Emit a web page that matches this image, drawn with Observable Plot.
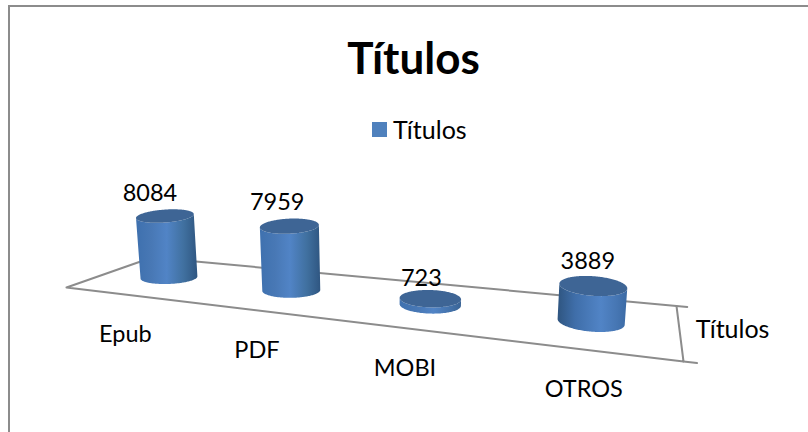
<!DOCTYPE html>
<html>
<head>
<meta charset="utf-8">
<script src="https://cdn.jsdelivr.net/npm/d3@7"></script>
<script src="https://cdn.jsdelivr.net/npm/@observablehq/plot@0.6"></script>
<style>
html,body{margin:0;padding:0;background:#fff;}
#frame{position:absolute;left:8px;top:5px;width:800px;height:427px;border-left:2px solid #8c8c8c;border-top:2px solid #8c8c8c;box-sizing:border-box;}
#chart{position:absolute;left:0;top:0;width:808px;height:432px;overflow:hidden;font-family:Lato,sans-serif;color:#000;}
#title{position:absolute;left:0;width:808px;top:32px;text-align:center;padding-left:19px;box-sizing:border-box;font-size:44px;font-weight:700;line-height:50px;}
#legend{position:absolute;left:372px;top:114px;height:30px;display:flex;align-items:center;font-size:25px;line-height:30px;}
#legend i{display:block;width:15px;height:15px;background:#4f81bd;margin-right:6px;}
#plot{position:absolute;left:0;top:150px;}
svg{display:block;}
</style>
</head>
<body>
<div id="chart">
  <div id="frame"></div>
  <div id="title">Títulos</div>
  <div id="legend"><i></i><span>Títulos</span></div>
  <div id="plot"></div>
</div>
<script>
const categories = ["Epub", "PDF", "MOBI", "OTROS"];
const values = [8084, 7959, 723, 3889];
const seriesName = "Títulos";

// Camera: the floor plane (category position u, depth w) seen in perspective.
const floorCorners = [[66, 287], [151.5, 257], [676, 305.5], [683, 361]]; // (u0,w0) (u0,w1) (u4,w1) (u4,w0)
const uMax = categories.length;
function homography([p0, p1, p2, p3]) {
  const dx1 = p3[0] - p2[0], dx2 = p1[0] - p2[0], sx = p0[0] - p3[0] + p2[0] - p1[0];
  const dy1 = p3[1] - p2[1], dy2 = p1[1] - p2[1], sy = p0[1] - p3[1] + p2[1] - p1[1];
  const det = dx1 * dy2 - dx2 * dy1;
  const g = (sx * dy2 - dx2 * sy) / det, h = (dx1 * sy - sx * dy1) / det;
  const a = p3[0] - p0[0] + g * p3[0], b = p1[0] - p0[0] + h * p1[0], c = p0[0];
  const d = p3[1] - p0[1] + g * p3[1], e = p1[1] - p0[1] + h * p1[1], f = p0[1];
  return (s, t) => {
    const z = g * s + h * t + 1;
    return [(a * s + b * t + c) / z, (d * s + e * t + f) / z];
  };
}
const H = homography(floorCorners);
const unitsPerValue = 0.0076, growth = 0.0005, leanAt = 390, leanRate = 0.0003;
function project(u, w, v = 0) {
  const [x, y] = H(u / uMax, w);
  const h = v * unitsPerValue * (1 + (x - 170) * growth);
  return [x + (x - leanAt) * leanRate * h, y - h];
}

// Where each cylinder stands on the floor and how wide it is, in floor units.
const barPositions = [0.535, 1.565, 2.56, 3.53];
const barRadii = [0.22, 0.205, 0.195, 0.185];
const labelPositions = [0.53, 1.57, 2.55, 3.53];
const labelLift = [22, 23, 20, 24];
const radiusW = 0.19, midW = 0.5;
const step = Math.PI / 90;
const rows = categories.map((name, i) => ({name, i, value: values[i], u: barPositions[i], r: barRadii[i]}));

const point = (r, a, v) => project(r.u + r.r * Math.cos(a), midW + radiusW * Math.sin(a), v);
function ring(r, v, from, to) {
  return [...d3.range(from, to, step), to].map(a => point(r, a, v));
}
// Front half of the silhouette: between the ring's leftmost and rightmost points on screen.
function body(r) {
  const all = d3.range(0, 2 * Math.PI, step);
  const left = d3.least(all, a => point(r, a, 0)[0]);
  let right = d3.least(all, a => -point(r, a, 0)[0]);
  if (right < left) right += 2 * Math.PI;
  const top = ring(r, r.value, left, right);
  const bottom = ring(r, 0, left, right).reverse();
  return [...top, ...bottom].map(p => ({x: p[0], y: p[1]}));
}
function cap(r) {
  return ring(r, r.value, 0, 2 * Math.PI).map(p => ({x: p[0], y: p[1]}));
}
const floorEdge = [[0, 0], [0, 1], [uMax, 1], [uMax, 0], [0, 0]].map(([u, w]) => {
  const [x, y] = project(u, w); return {x, y};
});
const backTick = [H(1, 1), H(1.015, 1)].map(([x, y]) => ({x, y}));
const frontTick = [H(1, 0), H(1.015, 0)].map(([x, y]) => ({x, y}));

// Horizontal shading of each cylinder: offset, colour
const shades = [
  [[0, "#3e70ae"], [0.25, "#4878b5"], [0.5, "#5184c6"], [0.78, "#40709f"], [1, "#2f5681"]],
  [[0, "#3f71af"], [0.25, "#4878b5"], [0.5, "#5184c6"], [0.78, "#40709f"], [1, "#2f5681"]],
  [[0, "#3f71af"], [0.3, "#4878b5"], [0.55, "#5184c6"], [0.8, "#4574ad"], [1, "#3a6495"]],
  [[0, "#2f5580"], [0.25, "#3f6ea9"], [0.62, "#5184c6"], [0.85, "#4676b3"], [1, "#3b6aa4"]]
];
const defs = () => {
  const d = d3.create("svg:defs");
  shades.forEach((stops, i) => {
    const g = d.append("linearGradient").attr("id", "body" + i);
    stops.forEach(([o, c]) => g.append("stop").attr("offset", o).attr("stop-color", c));
  });
  return d.node();
};

const plot = Plot.plot({
  width: 808, height: 282,
  marginLeft: 0, marginRight: 0, marginTop: 0, marginBottom: 0,
  x: {domain: [0, 808], range: [0, 808], axis: null},
  y: {domain: [150, 432], range: [0, 282], axis: null},
  style: {fontFamily: "Lato, sans-serif", background: "transparent"},
  marks: [
    defs,
    Plot.line(floorEdge, {x: "x", y: "y", stroke: "#8c8c8c", strokeWidth: 2}),
    Plot.line(backTick, {x: "x", y: "y", stroke: "#8c8c8c", strokeWidth: 2}),
    Plot.line(frontTick, {x: "x", y: "y", stroke: "#8c8c8c", strokeWidth: 2}),
    ...rows.map(r => Plot.line(body(r), {x: "x", y: "y", stroke: null, fill: `url(#body${r.i})`})),
    ...rows.map(r => Plot.line(cap(r), {x: "x", y: "y", stroke: null, fill: "#3e6595"})),
    Plot.text(rows, {
      x: r => { const p = project(r.u, midW, r.value); return p[0] - 15 + (p[0] - 165) * 0.0235; },
      y: r => project(r.u, midW, r.value)[1] - labelLift[r.i],
      text: r => String(r.value), fontSize: 23.5, fill: "#000"
    }),
    Plot.text(rows, {
      x: r => project(labelPositions[r.i], 0)[0],
      y: r => project(labelPositions[r.i], 0)[1],
      dy: 40,
      text: "name", fontSize: 23.5, fill: "#000"
    }),
    Plot.text([seriesName], {
      x: () => project(uMax, 0.5)[0] + 53,
      y: () => project(uMax, 0.5)[1],
      dy: -1,
      text: d => d, fontSize: 25, fill: "#000"
    })
  ]
});
document.getElementById("plot").appendChild(plot);
</script>
</body>
</html>
